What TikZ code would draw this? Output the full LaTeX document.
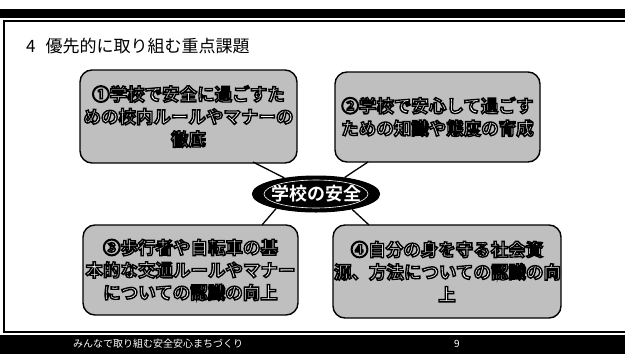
\documentclass[tikz,border=0pt]{standalone}
\usepackage{fontspec}
\setmainfont{Noto Sans CJK JP}
\newfontfamily\jpb{Noto Sans CJK JP Bold}
\usetikzlibrary{shapes.geometric}
\tikzset{
  boxnode/.style={draw=black, line width=1.4pt, rounded corners=12pt, fill=gray!50,
    inner sep=0pt, align=center, font=\jpb\fontsize{17.5}{22.5}\selectfont,
    execute at begin node={\color{white}\special{pdf:literal direct 2 Tr 1.4 w 0 G}},
    execute at end node={\special{pdf:literal direct 0 Tr}}},
  hub/.style={ellipse, draw=black, fill=black, line width=1pt, inner sep=0pt,
    minimum width=115pt, minimum height=36pt, text=white,
    font=\jpb\fontsize{18}{20}\selectfont},
  conn/.style={draw=black, line width=1.3pt},
  bar/.style={fill=black}
}
\begin{document}
\begin{tikzpicture}[x=1pt,y=-1pt]
\useasboundingbox (0,0) rectangle (625,354);
% frame bars
\fill[bar] (0,9) rectangle (625,18);
\fill[bar] (3,20) rectangle (625,22);
\fill[bar] (3,20) rectangle (5,333);
\fill[bar] (3,331) rectangle (625,333);
\fill[bar] (0,335) rectangle (625,354);
% title
\node[anchor=west, inner sep=0pt, font=\fontsize{17}{19}\selectfont] (title) at (26,46) {4\hspace{10pt}優先的に取り組む重点課題};
% boxes
\node[boxnode, minimum width=217pt, minimum height=93pt, text width=215pt] (b1) at (188.5,116.5) {①学校で安全に過ごすた\\めの校内ルールやマナーの\\徹底};
\node[boxnode, minimum width=205pt, minimum height=90pt, text width=203pt] (b2) at (437.5,117) {②学校で安心して過ごす\\ための知識や態度の育成};
\node[boxnode, minimum width=215pt, minimum height=90pt, text width=213pt] (b3) at (190.5,270) {③歩行者や自転車の基\\本的な交通ルールやマナー\\についての認識の向上};
\node[boxnode, minimum width=228pt, minimum height=93pt, text width=226pt] (b4) at (447,271.5) {④自分の身を守る社会資\\源、方法についての認識の向\\上};
% hub
\node[hub] (e) at (316,194) {学校の安全};
\draw[white, line width=0.6pt] (e.center) ellipse [x radius=52pt, y radius=14pt];
% connectors
\coordinate (c1) at (253,162);
\coordinate (c2) at (368,162);
\coordinate (c3) at (262,225);
\coordinate (c4) at (369,225);
\draw[conn] (c1) -- (e.153);
\draw[conn] (c2) -- (e.30);
\draw[conn] (c3) -- (e.200);
\draw[conn] (c4) -- (e.337);
% footer
\node[anchor=west, inner sep=0pt, text=white, font=\fontsize{10}{12}\selectfont] (foot) at (73,344) {みんなで取り組む安全安心まちづくり};
\node[inner sep=0pt, text=white, font=\fontsize{10}{12}\selectfont] (page) at (457,344) {9};
\end{tikzpicture}
\end{document}
